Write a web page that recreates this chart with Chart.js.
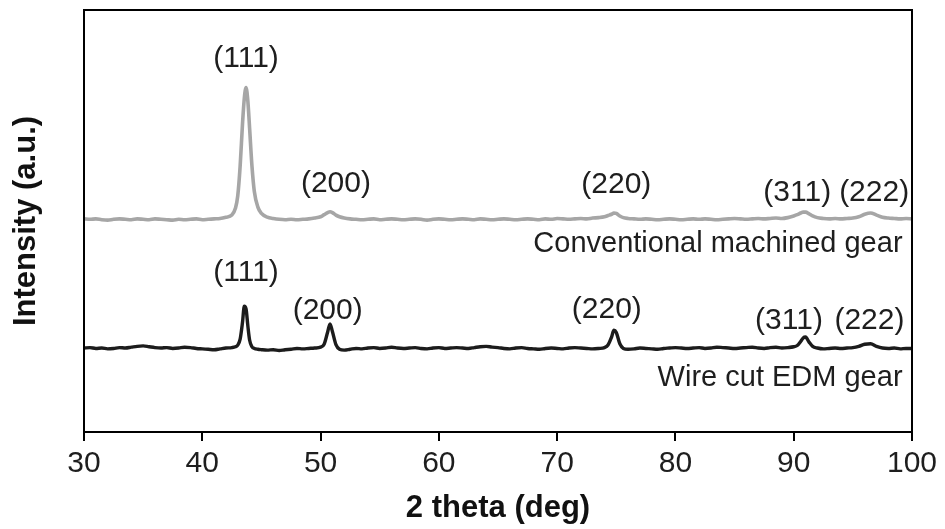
<!DOCTYPE html>
<html>
<head>
<meta charset="utf-8">
<script src="https://cdn.jsdelivr.net/npm/chart.js@4/dist/chart.umd.min.js"></script>
<style>
  html, body { margin: 0; padding: 0; background: #fff; }
  #wrap { width: 945px; height: 529px; }
</style>
</head>
<body>
<div id="wrap"><canvas id="xrd" width="945" height="529"></canvas></div>
<script>
// 2θ sampling positions (deg); denser around the reflections
const twoTheta = [
  30, 30.5, 31, 31.5, 32, 32.5, 33, 33.5, 34, 34.5, 35, 35.5, 36, 36.5, 37, 37.5, 38, 38.5, 39, 39.5, 40, 40.5, 41, 41.5, 42, 42.5,
  42.8, 43, 43.2, 43.4, 43.55, 43.7, 43.85, 44, 44.2, 44.4, 44.7, 45,
  45.5, 46, 46.5, 47, 47.5, 48, 48.5, 49, 49.5,
  50, 50.3, 50.6, 50.8, 51, 51.3, 51.6,
  52, 52.5, 53, 53.5, 54, 54.5, 55, 55.5, 56, 56.5, 57, 57.5, 58, 58.5, 59, 59.5, 60, 60.5, 61, 61.5, 62, 62.5,
  63, 63.5, 64, 64.5, 65, 65.5, 66, 66.5, 67, 67.5, 68, 68.5, 69, 69.5, 70, 70.5, 71, 71.5, 72, 72.5, 73, 73.5, 74,
  74.3, 74.6, 74.8, 75, 75.3, 75.6,
  76, 76.5, 77, 77.5, 78, 78.5, 79, 79.5, 80, 80.5, 81, 81.5, 82, 82.5, 83, 83.5, 84, 84.5, 85, 85.5,
  86, 86.5, 87, 87.5, 88, 88.5, 89, 89.5, 90,
  90.3, 90.6, 90.8, 91, 91.3, 91.6,
  92, 92.5, 93, 93.5, 94, 94.5, 95, 95.5, 96, 96.5, 97, 97.5, 98, 98.5, 99, 99.5, 100
];

// Conventional machined gear (offset trace, a.u.)
const conventional = [
  50.5, 50.4, 50.5, 50.3, 50.2, 50.4, 50.5, 50.4, 50.3, 50.5, 50.4, 50.3, 50.5, 50.4, 50.3, 50.2, 50.4, 50.3, 50.4, 50.5, 50.3, 50.4, 50.5, 50.6, 50.9, 51.4,
  53.0, 56.0, 63.0, 73.0, 79.0, 81.6, 78.5, 72.0, 63.0, 57.0, 53.3, 51.8,
  50.9, 50.6, 50.4, 50.3, 50.4, 50.3, 50.4, 50.5, 50.7,
  51.0, 51.5, 52.0, 52.2, 52.0, 51.4, 51.0,
  50.7, 50.5, 50.4, 50.3, 50.4, 50.5, 50.3, 50.4, 50.5, 50.4, 50.3, 50.4, 50.5, 50.4, 50.2, 50.4, 50.5, 50.4, 50.3, 50.4, 50.5, 50.4,
  50.3, 50.5, 50.4, 50.3, 50.4, 50.5, 50.4, 50.3, 50.4, 50.5, 50.4, 50.3, 50.5, 50.4, 50.6, 50.5, 50.4, 50.5, 50.6, 50.5, 50.7, 50.8, 51.0,
  51.3, 51.6, 51.9, 51.8, 51.2, 50.8,
  50.6, 50.5, 50.4, 50.5, 50.4, 50.3, 50.4, 50.5, 50.4, 50.3, 50.4, 50.5, 50.4, 50.5, 50.4, 50.3, 50.4, 50.5, 50.6, 50.5,
  50.4, 50.5, 50.6, 50.5, 50.6, 50.7, 50.6, 50.8, 51.2,
  51.5, 51.9, 52.1, 52.1, 51.7, 51.2,
  50.8, 50.6, 50.5, 50.6, 50.5, 50.6, 50.7, 51.0, 51.6, 51.9, 51.4, 50.9, 50.7, 50.6, 50.5, 50.6, 50.5
];

// Wire cut EDM gear (a.u.)
const wireEdm = [
  19.9, 20.0, 19.8, 19.9, 19.7, 19.8, 20.0, 19.9, 20.1, 20.3, 20.4, 20.2, 20.0, 19.9, 20.0, 19.8, 19.9, 20.1, 20.0, 19.8, 19.7, 19.6, 19.5, 19.7, 19.9, 20.0,
  20.2, 20.6, 22.0, 26.0, 29.8, 29.2, 25.2, 21.8, 20.2, 19.8, 19.6, 19.5,
  19.4, 19.5, 19.3, 19.5, 19.6, 19.8, 19.7, 19.8, 19.9,
  20.1, 20.8, 23.7, 25.6, 23.8, 20.7, 19.6,
  19.4, 19.6, 19.8, 19.7, 19.9, 20.0, 19.8, 19.9, 20.1, 19.9, 19.8, 19.9, 20.0, 19.8, 19.7, 19.9, 20.0, 19.8, 19.9, 20.0, 19.9, 19.8,
  20.0, 20.2, 20.3, 20.1, 20.0, 19.8, 19.7, 19.9, 20.0, 19.8, 19.7, 19.6, 19.8, 19.9, 19.8, 19.7, 19.9, 20.0, 19.9, 19.8, 19.7, 19.8, 20.0,
  20.6, 22.5, 24.1, 23.6, 20.9, 19.8,
  19.6, 19.7, 19.9, 19.8, 19.7, 19.6, 19.8, 19.9, 20.0, 19.9, 19.8, 19.9, 20.0, 19.8, 19.9, 20.1, 20.0, 19.9, 19.8, 19.9,
  20.0, 20.1, 19.9, 19.8, 20.0, 20.1, 19.9, 20.0, 20.2,
  20.5, 21.5, 22.3, 22.5, 21.3, 20.3,
  19.9, 19.7, 19.8, 19.9, 19.8, 19.9, 20.0, 20.3, 20.8, 20.9, 20.3, 19.9, 19.8, 19.9, 19.7, 19.8, 19.8
];

// Reflection labels and sample names
const reflections = ['(111)', '(200)', '(220)', '(311)', '(222)'];
const conventionalName = 'Conventional machined gear';
const wireEdmName = 'Wire cut EDM gear';
const xTicks = [30, 40, 50, 60, 70, 80, 90, 100];

// Text placement in axis units (2θ, intensity)
const conventionalLabelPos = [[43.7, 88.4], [51.3, 58.8], [75.0, 58.6], [90.3, 56.6], [96.8, 56.6]];
const wireEdmLabelPos = [[43.7, 37.7], [50.6, 28.8], [74.2, 28.9], [89.6, 26.3], [96.4, 26.3]];
const conventionalNamePos = [99.2, 44.5];
const wireEdmNamePos = [99.2, 12.8];

const FONT = '"Liberation Sans", Arial, Helvetica, sans-serif';

const labelPlugin = {
  id: 'frameAndLabels',
  afterDatasetsDraw(chart) {
    const { ctx, chartArea: a, scales: { x, y } } = chart;
    ctx.save();
    // closed plot frame
    ctx.strokeStyle = '#000';
    ctx.lineWidth = 2;
    ctx.strokeRect(a.left, a.top, a.right - a.left, a.bottom - a.top);

    ctx.fillStyle = '#1e1e1e';
    ctx.font = '30px ' + FONT;
    ctx.textBaseline = 'middle';
    ctx.textAlign = 'center';
    reflections.forEach((r, i) => {
      ctx.fillText(r, x.getPixelForValue(conventionalLabelPos[i][0]), y.getPixelForValue(conventionalLabelPos[i][1]));
      ctx.fillText(r, x.getPixelForValue(wireEdmLabelPos[i][0]), y.getPixelForValue(wireEdmLabelPos[i][1]));
    });
    ctx.font = '29px ' + FONT;
    ctx.textAlign = 'right';
    ctx.fillText(conventionalName, x.getPixelForValue(conventionalNamePos[0]), y.getPixelForValue(conventionalNamePos[1]));
    ctx.fillText(wireEdmName, x.getPixelForValue(wireEdmNamePos[0]), y.getPixelForValue(wireEdmNamePos[1]));
    ctx.restore();
  }
};

new Chart(document.getElementById('xrd'), {
  type: 'line',
  data: {
    datasets: [
      {
        label: conventionalName,
        data: twoTheta.map((t, i) => ({ x: t, y: conventional[i] })),
        borderColor: '#a6a6a6',
        borderWidth: 3.6,
        borderJoinStyle: 'round',
        borderCapStyle: 'round',
        cubicInterpolationMode: 'monotone',
        pointRadius: 0,
        fill: false
      },
      {
        label: wireEdmName,
        data: twoTheta.map((t, i) => ({ x: t, y: wireEdm[i] })),
        borderColor: '#1c1c1c',
        borderWidth: 3.4,
        borderJoinStyle: 'round',
        borderCapStyle: 'round',
        cubicInterpolationMode: 'monotone',
        pointRadius: 0,
        fill: false
      }
    ]
  },
  options: {
    responsive: false,
    animation: false,
    devicePixelRatio: 1,
    layout: { padding: { top: 10, right: 33, left: 0, bottom: 0 } },
    plugins: { legend: { display: false }, tooltip: { enabled: false } },
    scales: {
      x: {
        type: 'linear',
        min: 30,
        max: 100,
        afterBuildTicks(s) { s.ticks = xTicks.map(v => ({ value: v })); },
        ticks: { color: '#1e1e1e', font: { size: 30, family: FONT }, padding: 5, maxRotation: 0 },
        grid: { display: true, drawOnChartArea: false, drawTicks: true, tickLength: 9, color: '#000', lineWidth: 2 },
        border: { display: true, color: '#000', width: 2 },
        title: { display: true, text: '2 theta (deg)', color: '#111', font: { size: 31, weight: 'bold', family: FONT }, padding: { top: 0, bottom: 2 } },
        afterFit(s) { s.height = 97; }
      },
      y: {
        min: 0,
        max: 100,
        ticks: { display: false },
        grid: { display: false, drawTicks: false },
        border: { display: true, color: '#000', width: 2 },
        title: { display: true, text: 'Intensity (a.u.)', color: '#111', font: { size: 31, weight: 'bold', family: FONT }, padding: { top: 8, bottom: 0 } },
        afterFit(s) { s.width = 84; }
      }
    }
  },
  plugins: [labelPlugin]
});
</script>
</body>
</html>
